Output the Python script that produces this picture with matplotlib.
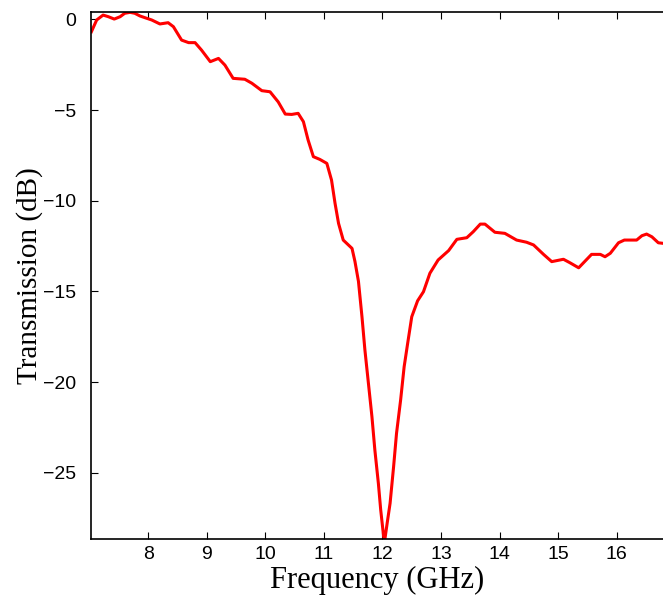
import matplotlib.pyplot as plt
import numpy as np

freq_ghz = [7.03, 7.12, 7.23, 7.32, 7.42, 7.52, 7.60, 7.69, 7.77, 7.86, 7.95,
            8.06, 8.20, 8.34, 8.43, 8.57, 8.69, 8.80, 8.91, 9.06, 9.20, 9.31,
            9.45, 9.65, 9.77, 9.94, 10.08, 10.22, 10.34, 10.45, 10.56, 10.65,
            10.73, 10.82, 10.93, 11.05, 11.13, 11.19, 11.25, 11.33, 11.48,
            11.53, 11.59, 11.65, 11.70, 11.76, 11.82, 11.87, 11.93, 11.97,
            12.02, 12.04, 12.08, 12.13, 12.19, 12.24, 12.31, 12.37, 12.43,
            12.50, 12.60, 12.70, 12.81, 12.95, 13.13, 13.27, 13.44, 13.55,
            13.67, 13.75, 13.92, 14.09, 14.29, 14.46, 14.58, 14.75, 14.89,
            15.09, 15.20, 15.35, 15.57, 15.72, 15.80, 15.89, 16.03, 16.13,
            16.34, 16.43, 16.51, 16.60, 16.71, 16.79]
trans_db = [-0.68, -0.03, 0.24, 0.15, 0.02, 0.15, 0.34, 0.39, 0.34, 0.19, 0.09,
            -0.03, -0.25, -0.18, -0.40, -1.14, -1.28, -1.28, -1.69, -2.33,
            -2.15, -2.52, -3.25, -3.30, -3.52, -3.93, -3.99, -4.55, -5.22,
            -5.24, -5.18, -5.64, -6.65, -7.57, -7.72, -7.94, -8.86, -10.14,
            -11.25, -12.17, -12.63, -13.35, -14.45, -16.40, -18.23, -20.07,
            -21.91, -23.75, -25.59, -27.06, -28.53, -28.70, -27.79, -26.69,
            -24.67, -22.83, -20.99, -19.16, -17.87, -16.40, -15.52, -15.02,
            -14.00, -13.27, -12.75, -12.13, -12.04, -11.71, -11.29, -11.29,
            -11.74, -11.80, -12.17, -12.29, -12.44, -12.96, -13.36, -13.23,
            -13.42, -13.70, -12.96, -12.96, -13.09, -12.90, -12.32, -12.17,
            -12.17, -11.93, -11.84, -11.99, -12.32, -12.35]

xticks = [8, 9, 10, 11, 12, 13, 14, 15, 16]
yticks = [0, -5, -10, -15, -20, -25]

fig = plt.figure(figsize=(6.63, 5.98), dpi=100)
ax = fig.add_axes([91.4 / 663, 1 - 539 / 598, (663 - 91.4) / 663, (539 - 12) / 598])

ax.plot(freq_ghz, trans_db, color='red', linewidth=2.2)

ax.set_xlim(7.03, 16.79)
ax.set_ylim(-28.66, 0.41)
ax.set_xticks(xticks)
ax.set_yticks(yticks)
ax.set_yticklabels([str(t).replace('-', '\u2212') for t in yticks])

ax.tick_params(direction='in', length=5, width=0.8, top=True, right=False,
               labelsize=14)
ax.tick_params(axis='x', pad=5)
ax.tick_params(axis='y', pad=11)
for lab in ax.get_xticklabels() + ax.get_yticklabels():
    lab.set_family('Liberation Sans')
for s in ['left', 'bottom', 'top']:
    ax.spines[s].set_linewidth(1.2)
ax.spines['right'].set_visible(False)

ax.set_xlabel('Frequency (GHz)', family='Liberation Serif', fontsize=22, labelpad=2)
ax.set_ylabel('Transmission (dB)', family='Liberation Serif', fontsize=21, labelpad=0)

fig.savefig('out.png', dpi=100)
